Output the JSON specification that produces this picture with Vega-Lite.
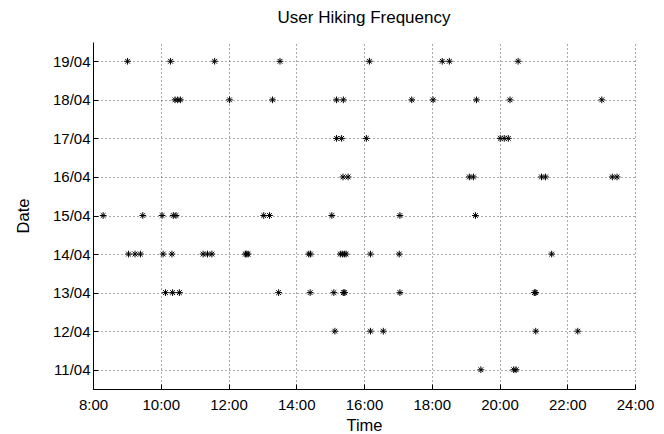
{
  "$schema": "https://vega.github.io/schema/vega-lite/v6.json",
  "width": 542,
  "height": 347,
  "autosize": {"type": "none"},
  "padding": {"left": 93, "top": 42, "right": 29, "bottom": 45},
  "background": "white",
  "title": {
    "text": "User Hiking Frequency",
    "font": "Liberation Sans",
    "fontSize": 17,
    "fontWeight": "normal",
    "color": "black",
    "anchor": "middle",
    "offset": 15
  },
  "config": {
    "view": {"stroke": null},
    "axis": {
      "labelFont": "Liberation Sans",
      "labelFontSize": 15,
      "labelColor": "black",
      "labelFlush": false,
      "labelOverlap": false,
      "titleFont": "Liberation Sans",
      "titleFontSize": 16.5,
      "titleFontWeight": "normal",
      "titleColor": "black",
      "domainColor": "black",
      "domainWidth": 1,
      "tickColor": "black",
      "tickSize": -5,
      "gridColor": "#333333",
      "gridDash": [1, 3],
      "gridWidth": 1,
      "gridOpacity": 0.85
    }
  },
  "data": {
    "values": [
      {"date": "19/04", "hour": 9.02}, {"date": "19/04", "hour": 10.29}, {"date": "19/04", "hour": 11.59}, {"date": "19/04", "hour": 13.52}, {"date": "19/04", "hour": 16.16}, {"date": "19/04", "hour": 18.31}, {"date": "19/04", "hour": 18.52}, {"date": "19/04", "hour": 20.55},
      {"date": "18/04", "hour": 10.42}, {"date": "18/04", "hour": 10.5}, {"date": "18/04", "hour": 10.58}, {"date": "18/04", "hour": 12.03}, {"date": "18/04", "hour": 13.3}, {"date": "18/04", "hour": 15.19}, {"date": "18/04", "hour": 15.39}, {"date": "18/04", "hour": 17.41}, {"date": "18/04", "hour": 18.04}, {"date": "18/04", "hour": 19.32}, {"date": "18/04", "hour": 20.31}, {"date": "18/04", "hour": 23.02},
      {"date": "17/04", "hour": 15.19}, {"date": "17/04", "hour": 15.34}, {"date": "17/04", "hour": 16.07}, {"date": "17/04", "hour": 20.02}, {"date": "17/04", "hour": 20.14}, {"date": "17/04", "hour": 20.26},
      {"date": "16/04", "hour": 15.38}, {"date": "16/04", "hour": 15.53}, {"date": "16/04", "hour": 19.11}, {"date": "16/04", "hour": 19.23}, {"date": "16/04", "hour": 21.24}, {"date": "16/04", "hour": 21.36}, {"date": "16/04", "hour": 23.33}, {"date": "16/04", "hour": 23.47},
      {"date": "15/04", "hour": 8.3}, {"date": "15/04", "hour": 9.47}, {"date": "15/04", "hour": 10.04}, {"date": "15/04", "hour": 10.37}, {"date": "15/04", "hour": 10.45}, {"date": "15/04", "hour": 13.04}, {"date": "15/04", "hour": 13.21}, {"date": "15/04", "hour": 15.05}, {"date": "15/04", "hour": 17.06}, {"date": "15/04", "hour": 19.29},
      {"date": "14/04", "hour": 9.05}, {"date": "14/04", "hour": 9.24}, {"date": "14/04", "hour": 9.4}, {"date": "14/04", "hour": 10.07}, {"date": "14/04", "hour": 10.33}, {"date": "14/04", "hour": 11.25}, {"date": "14/04", "hour": 11.38}, {"date": "14/04", "hour": 11.51}, {"date": "14/04", "hour": 12.5}, {"date": "14/04", "hour": 12.54}, {"date": "14/04", "hour": 12.58}, {"date": "14/04", "hour": 14.37}, {"date": "14/04", "hour": 14.42}, {"date": "14/04", "hour": 15.3}, {"date": "14/04", "hour": 15.36}, {"date": "14/04", "hour": 15.42}, {"date": "14/04", "hour": 15.47}, {"date": "14/04", "hour": 16.19}, {"date": "14/04", "hour": 17.04}, {"date": "14/04", "hour": 21.54},
      {"date": "13/04", "hour": 10.14}, {"date": "13/04", "hour": 10.35}, {"date": "13/04", "hour": 10.55}, {"date": "13/04", "hour": 13.48}, {"date": "13/04", "hour": 14.41}, {"date": "13/04", "hour": 15.11}, {"date": "13/04", "hour": 15.39}, {"date": "13/04", "hour": 15.43}, {"date": "13/04", "hour": 17.06}, {"date": "13/04", "hour": 21.03}, {"date": "13/04", "hour": 21.07},
      {"date": "12/04", "hour": 15.14}, {"date": "12/04", "hour": 16.19}, {"date": "12/04", "hour": 16.57}, {"date": "12/04", "hour": 21.07}, {"date": "12/04", "hour": 22.31},
      {"date": "11/04", "hour": 19.45}, {"date": "11/04", "hour": 20.42}, {"date": "11/04", "hour": 20.49}
    ]
  },
  "mark": {
    "type": "point",
    "shape": "M-1,0L1,0M0,-1L0,1M-0.7071,-0.7071L0.7071,0.7071M-0.7071,0.7071L0.7071,-0.7071",
    "filled": false,
    "stroke": "black",
    "strokeWidth": 1,
    "opacity": 1,
    "size": 45
  },
  "encoding": {
    "x": {
      "field": "hour",
      "type": "quantitative",
      "title": "Time",
      "scale": {"domain": [8, 24], "nice": false, "zero": false},
      "axis": {
        "values": [8, 10, 12, 14, 16, 18, 20, 22, 24],
        "labelExpr": "datum.value + ':00'",
        "labelPadding": 13,
        "titlePadding": 5,
        "grid": true
      }
    },
    "y": {
      "field": "date",
      "type": "ordinal",
      "title": "Date",
      "scale": {
        "type": "point",
        "padding": 0.5,
        "domain": ["19/04", "18/04", "17/04", "16/04", "15/04", "14/04", "13/04", "12/04", "11/04"]
      },
      "axis": {
        "labelPadding": 8,
        "titlePadding": 21,
        "grid": true
      }
    }
  }
}
